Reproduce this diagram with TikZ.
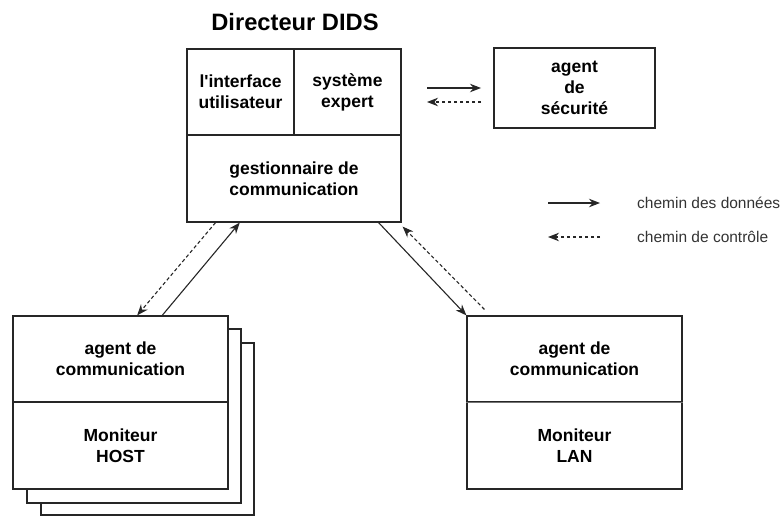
\documentclass[tikz,border=0pt]{standalone}
\usepackage{fontspec}
\setmainfont{Liberation Sans}
\usetikzlibrary{arrows.meta,calc}
\begin{document}
\begin{tikzpicture}[x=1pt,y=-1pt,
  cell/.style={draw=black!85, line width=1.2pt, fill=white, inner sep=0pt,
    align=center, font=\bfseries\fontsize{17.5}{21}\selectfont},
  sheet/.style={draw=black!85, line width=1.2pt, fill=white},
  data/.style={-{Stealth[length=11pt,width=8.5pt]}, line width=1.1pt, black!85},
  ctrl/.style={-{Stealth[length=11pt,width=8.5pt]}, dash pattern=on 3.5pt off 2.5pt,
    line width=1.1pt, black!85},
  lbl/.style={font=\fontsize{15.5}{18}\selectfont, anchor=west, inner sep=0pt, black!80}]
\useasboundingbox (0,0) rectangle (783,516);

% title of the director
\node[font=\bfseries\fontsize{23.7}{28}\selectfont] (title) at (295,22) {Directeur DIDS};

% DIDS director
\node[cell, minimum width=107pt, minimum height=86pt] (ui) at (240.5,92) {l\textquotesingle interface\\utilisateur};
\node[cell, minimum width=107pt, minimum height=86pt] (se) at (347.5,92) {système\\expert};
\node[cell, minimum width=214pt, minimum height=87pt] (gc) at (294,178.5) {gestionnaire de\\communication};

% security agent
\node[cell, minimum width=161pt, minimum height=80pt] (sec) at (574.5,88) {agent\\de\\sécurité};

% host monitor: stacked sheets behind the front one
\draw[sheet] (41,343) rectangle (254,515);
\draw[sheet] (27,329) rectangle (241,503);
\node[cell, minimum width=215pt, minimum height=86pt] (hagent) at (120.5,359) {agent de\\communication};
\node[cell, minimum width=215pt, minimum height=87pt] (hmon) at (120.5,445.5) {Moniteur\\HOST};

% LAN monitor
\node[cell, minimum width=215pt, minimum height=86pt] (lagent) at (574.5,359) {agent de\\communication};
\node[cell, minimum width=215pt, minimum height=87pt] (lmon) at (574.5,445.5) {Moniteur\\LAN};
\draw[black!55, line width=1.3pt] (lagent.south west) -- (lagent.south east);

% director <-> security agent
\coordinate (sa) at (427,88);
\coordinate (sb) at (481,88);
\coordinate (sc) at (481,102);
\coordinate (sd) at (427,102);
\draw[data] (sa) -- (sb);
\draw[ctrl] (sc) -- (sd);

% director <-> host agent
\draw[ctrl] ($(gc.south west)!0.1355!(gc.south east)$) -- ($(hagent.north west)!0.577!(hagent.north east)$);
\draw[data] ($(hagent.north west)!0.693!(hagent.north east)$) -- ($(gc.south west)!0.248!(gc.south east)$);

% director <-> LAN agent
\draw[data] ($(gc.south west)!0.893!(gc.south east)$) -- (lagent.north west);
\draw[ctrl] ($(lagent.north west)+(18,-6)$) -- ($(gc.south east)+(1,4)$);

% legend
\coordinate (la) at (548,203);
\coordinate (lb) at (600,203);
\coordinate (lc) at (600,237);
\coordinate (ld) at (548,237);
\draw[data] (la) -- (lb);
\draw[ctrl] (lc) -- (ld);
\node[lbl] (ldata) at (637,203) {chemin des données};
\node[lbl] (lctrl) at (637,237) {chemin de contrôle};
\end{tikzpicture}
\end{document}
